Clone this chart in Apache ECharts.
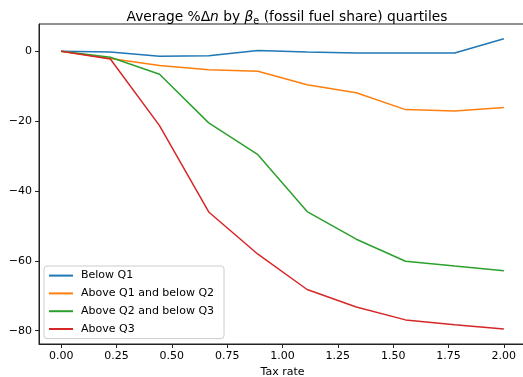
<!DOCTYPE html>
<html><head><meta charset="utf-8">
<script src="https://cdn.jsdelivr.net/npm/echarts@6/dist/echarts.min.js"></script>
<style>html,body{margin:0;padding:0;background:#fff}#c{width:523px;height:377px}</style>
</head><body><div id="c"></div>
<script>
const taxRates = [0, 0.2222, 0.4444, 0.6667, 0.8889, 1.1111, 1.3333, 1.5556, 1.7778, 2.0];
const belowQ1 = [0, -0.2, -1.4, -1.3, 0.2, -0.2, -0.5, -0.5, -0.5, 3.6];
const aboveQ1belowQ2 = [0, -2.1, -4.1, -5.3, -5.7, -9.6, -11.9, -16.7, -17.1, -16.1];
const aboveQ2belowQ3 = [0, -1.7, -6.6, -20.5, -29.6, -45.9, -53.8, -60.1, -61.5, -62.8];
const aboveQ3 = [0, -2.2, -21.3, -46.0, -58.1, -68.2, -73.2, -76.9, -78.3, -79.5];
const seriesNames = ['Below Q1', 'Above Q1 and below Q2', 'Above Q2 and below Q3', 'Above Q3'];
const xTicks = [0, 0.25, 0.5, 0.75, 1.0, 1.25, 1.5, 1.75, 2.0];
const yTicks = [-80, -60, -40, -20, 0];
const colors = ['#1f77b4', '#ff7f0e', '#2ca02c', '#d62728'];
const allSeries = [belowQ1, aboveQ1belowQ2, aboveQ2belowQ3, aboveQ3];

const font = 'DejaVu Sans';
const chart = echarts.init(document.getElementById('c'));
chart.setOption({
  animation: false,
  title: {
    text: '{n|Average %Δ}{i|n}{n| by }{i|β}{s|e}{n| (fossil fuel share) quartiles}',
    left: 282, top: 5, textAlign: 'center',
    textStyle: {
      fontWeight: 'normal',
      rich: {
        n: {fontFamily: font, fontSize: 13.8, fontWeight: 'normal', color: '#000', verticalAlign: 'top', lineHeight: 16},
        i: {fontFamily: font, fontSize: 13.8, fontWeight: 'normal', color: '#000', fontStyle: 'italic', verticalAlign: 'top', lineHeight: 16},
        s: {fontFamily: font, fontSize: 9.6, fontWeight: 'normal', color: '#000', verticalAlign: 'top', lineHeight: 16, padding: [6, 0, 0, 0]}
      }
    }
  },
  grid: {left: 39, top: 24, right: -3, bottom: 33, outerBoundsMode: 'none', containLabel: false,
    show: true, borderColor: '#222', borderWidth: 1, backgroundColor: 'transparent'},
  legend: {
    orient: 'vertical', left: 44, top: 266,
    data: seriesNames,
    itemWidth: 24, itemHeight: 14, itemGap: 6.6,
    padding: [4, 10, 4, 4],
    itemStyle: {opacity: 0},
    backgroundColor: '#fff', borderColor: '#ccc', borderWidth: 1, borderRadius: 3,
    textStyle: {fontFamily: font, fontSize: 11, color: '#000', padding: [0, 0, 0, 3]}
  },
  xAxis: {
    type: 'value', min: -0.1, max: 2.1,
    name: 'Tax rate', nameLocation: 'middle', nameGap: 23,
    nameTextStyle: {fontFamily: font, fontSize: 11, color: '#000'},
    splitLine: {show: false},
    axisLine: {show: true, onZero: false, lineStyle: {color: '#222', width: 1}},
    axisTick: {show: true, length: 4, customValues: xTicks, lineStyle: {color: '#222'}},
    axisLabel: {customValues: xTicks, margin: 7, fontFamily: font, fontSize: 11, color: '#000',
      formatter: v => v.toFixed(2)}
  },
  yAxis: {
    type: 'value', min: -83.8, max: 7.8,
    splitLine: {show: false},
    axisLine: {show: true, onZero: false, lineStyle: {color: '#222', width: 1}},
    axisTick: {show: true, length: 4, customValues: yTicks, lineStyle: {color: '#222'}},
    axisLabel: {customValues: yTicks, margin: 7, fontFamily: font, fontSize: 11, color: '#000',
      formatter: v => String(v).replace('-', '\u2212')}
  },
  series: allSeries.map((vals, k) => ({
    name: seriesNames[k], type: 'line', symbol: 'none', color: colors[k],
    lineStyle: {width: 1.5, color: colors[k]},
    data: taxRates.map((x, i) => [x, vals[i]])
  }))
});
</script></body></html>
